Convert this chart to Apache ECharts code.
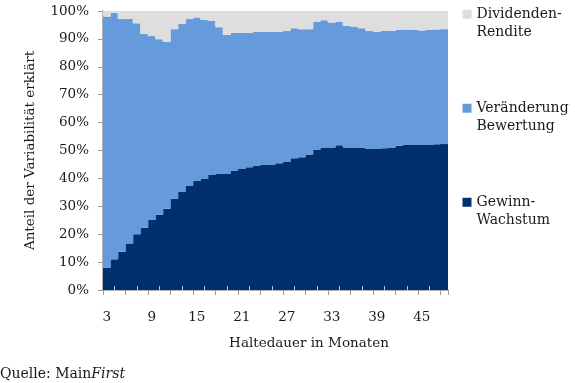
<!DOCTYPE html>
<html>
<head>
<meta charset="utf-8">
<script src="https://cdn.jsdelivr.net/npm/echarts@6/dist/echarts.min.js"></script>
<style>html,body{margin:0;padding:0;background:#fff}#c{width:575px;height:383px}</style>
</head>
<body>
<div id="c"></div>
<script>
// Holding period in months
var months = [];
for (var m = 3; m <= 48; m++) months.push(String(m));

// Share of variability explained (%)
var gewinnWachstum = [8.0, 11.0, 13.7, 16.7, 20.0, 22.3, 25.1, 27.0, 29.1, 32.7, 35.1, 37.3, 39.1, 39.8, 41.2, 41.6, 41.6, 42.8, 43.4, 44.0, 44.6, 44.8, 45.0, 45.4, 45.9, 47.2, 47.6, 48.6, 50.4, 51.1, 51.1, 51.9, 51.1, 51.1, 51.1, 50.5, 50.5, 50.8, 51.1, 51.7, 52.0, 52.0, 52.0, 52.0, 52.2, 52.3];
var veraenderungBewertung = [90.0, 88.4, 83.4, 80.4, 75.6, 69.5, 65.9, 62.9, 59.9, 60.8, 60.2, 59.8, 58.6, 57.0, 55.2, 52.6, 49.8, 49.4, 48.8, 48.2, 48.0, 47.8, 47.6, 47.2, 46.9, 46.6, 45.9, 44.9, 45.8, 45.6, 44.8, 44.3, 43.5, 43.3, 42.7, 42.3, 42.1, 42.0, 41.8, 41.6, 41.4, 41.2, 41.0, 41.3, 41.2, 41.2];
var dividendenRendite = [2.0, 0.6, 2.9, 2.9, 4.4, 8.2, 9.0, 10.1, 11.0, 6.5, 4.7, 2.9, 2.3, 3.2, 3.6, 5.8, 8.6, 7.8, 7.8, 7.8, 7.4, 7.4, 7.4, 7.4, 7.2, 6.2, 6.5, 6.5, 3.8, 3.3, 4.1, 3.8, 5.4, 5.6, 6.2, 7.2, 7.4, 7.2, 7.1, 6.7, 6.6, 6.8, 7.0, 6.7, 6.6, 6.5];

var seriesNames = ['Gewinn-Wachstum', 'Veränderung Bewertung', 'Dividenden-Rendite'];
// a leading blank line keeps the first text line level with the legend square
var legendLabels = {
  'Dividenden-Rendite': ' \nDividenden-\nRendite',
  'Veränderung Bewertung': ' \nVeränderung\nBewertung',
  'Gewinn-Wachstum': ' \nGewinn-\nWachstum'
};
var colors = ['#022f6e', '#659bdc', '#dedede'];

var FONT = 'DejaVu Serif';
var TXT = '#1a1a1a';
var chart = echarts.init(document.getElementById('c'), null, {renderer: 'canvas'});

function mkSeries(name, data, color) {
  return {
    name: name, type: 'bar', stack: 'total', data: data,
    barWidth: 8.3, xAxisIndex: 0,
    itemStyle: {color: color},
    emphasis: {disabled: true}
  };
}

function mkLegend(name, top) {
  return {
    data: [name], left: 462.5, top: top, orient: 'vertical', padding: 0,
    itemWidth: 9, itemHeight: 9, itemGap: 0, selectedMode: false,
    icon: 'rect',
    formatter: function (n) { return legendLabels[n]; },
    textStyle: {fontFamily: FONT, fontSize: 14, color: TXT, lineHeight: 18.5}
  };
}

chart.setOption({
  animation: false,
  color: colors,
  grid: {left: 103, right: 127, top: 11, bottom: 93, containLabel: false},
  legend: [
    mkLegend('Dividenden-Rendite', -13.5),
    mkLegend('Veränderung Bewertung', 80.5),
    mkLegend('Gewinn-Wachstum', 174.5)
  ],
  xAxis: [{
    type: 'category', data: months, position: 'bottom',
    axisLine: {lineStyle: {color: '#9a9a9a', width: 1.5}},
    axisTick: {show: true, interval: 2, length: 5, lineStyle: {color: '#9a9a9a'}},
    axisLabel: {interval: 5, margin: 20, fontFamily: FONT, fontSize: 13.5, color: TXT},
    name: 'Haltedauer in Monaten', nameLocation: 'middle', nameGap: 46,
    nameTextStyle: {fontFamily: FONT, fontSize: 13.5, color: TXT, padding: [0, 0, 0, 67]}
  }, {
    type: 'category', data: months, position: 'bottom', z: 5,
    axisLine: {show: false},
    axisTick: {show: true, inside: true, alignWithLabel: true, length: 4,
      interval: function (idx) { return idx % 3 === 1; },
      lineStyle: {color: '#b9c3d3'}},
    axisLabel: {show: false}
  }],
  yAxis: {
    type: 'value', min: 0, max: 100, interval: 10,
    axisLine: {show: true, lineStyle: {color: '#9a9a9a', width: 1.5}},
    axisTick: {show: true, length: 5, lineStyle: {color: '#9a9a9a'}},
    splitLine: {show: false},
    axisLabel: {formatter: '{value}%', margin: 14, fontFamily: FONT, fontSize: 13.5, color: TXT},
    name: 'Anteil der Variabilität erklärt', nameLocation: 'middle', nameGap: 66,
    nameTextStyle: {fontFamily: FONT, fontSize: 13.5, color: TXT}
  },
  series: [
    mkSeries(seriesNames[0], gewinnWachstum, colors[0]),
    mkSeries(seriesNames[1], veraenderungBewertung, colors[1]),
    mkSeries(seriesNames[2], dividendenRendite, colors[2])
  ],
  graphic: [{
    type: 'text', left: 0, top: 367,
    style: {
      text: '{n|Quelle: Main}{i|First}',
      rich: {
        n: {fontFamily: FONT, fontSize: 14, fill: TXT},
        i: {fontFamily: FONT, fontSize: 14, fontStyle: 'italic', fill: TXT}
      }
    }
  }]
});
</script>
</body>
</html>
